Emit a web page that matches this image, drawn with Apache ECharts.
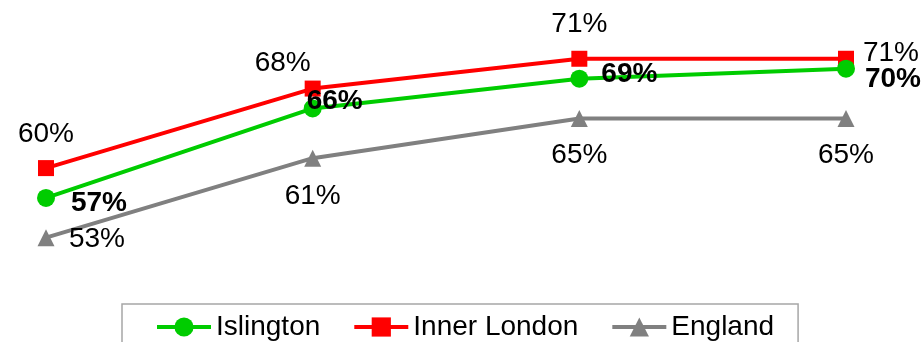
<!DOCTYPE html>
<html>
<head>
<meta charset="utf-8">
<script src="https://cdn.jsdelivr.net/npm/echarts@6/dist/echarts.min.js"></script>
<style>
  html, body { margin: 0; padding: 0; background: #fff; }
  #chart { width: 924px; height: 342px; }
</style>
</head>
<body>
<div id="chart"></div>
<script>
// Four time points, percentages for each area
const categories = ['1', '2', '3', '4'];
const islington = [57, 66, 69, 70];
const innerLondon = [60, 68, 71, 71];
const england = [53, 61, 65, 65];

// Where each value label sits relative to its point [dx, dy]
const islingtonLabelOffsets = [[53, 5], [22, -7], [50, -4], [47, 11]];
const innerLondonLabelOffsets = [[0, -34], [-30, -25], [0, -34], [45, -5]];
const englandLabelOffsets = [[51, 2], [0, 38], [0, 37], [0, 37]];

const FONT = "'Liberation Sans', Arial, Helvetica, sans-serif";

function withLabels(values, offsets, bold) {
  return values.map((v, i) => ({
    value: v,
    label: {
      show: true,
      position: 'inside',
      offset: offsets[i],
      align: 'center',
      verticalAlign: 'middle',
      formatter: '{c}%',
      color: '#000',
      fontSize: 28,
      fontFamily: FONT,
      fontWeight: bold ? 'bold' : 'normal'
    }
  }));
}

const chart = echarts.init(document.getElementById('chart'), null, { renderer: 'canvas' });

chart.setOption({
  animation: false,
  backgroundColor: '#ffffff',
  grid: { left: 46, right: 78, top: 19, bottom: 74.5, containLabel: false },
  xAxis: {
    type: 'category',
    data: categories,
    boundaryGap: false,
    show: false
  },
  yAxis: {
    type: 'value',
    min: 50,
    max: 75,
    show: false,
    splitLine: { show: false }
  },
  legend: {
    left: 122,
    top: 304,
    orient: 'horizontal',
    padding: [9, 24, 30, 33],
    itemGap: 32,
    itemWidth: 54,
    itemHeight: 24,
    borderColor: '#a6a6a6',
    borderWidth: 1.5,
    lineStyle: { width: 4 },
    textStyle: { color: '#000', fontSize: 28, fontFamily: FONT },
    data: ['Islington', 'Inner London', 'England']
  },
  series: [
    {
      name: 'Islington',
      type: 'line',
      data: withLabels(islington, islingtonLabelOffsets, true),
      symbol: 'circle',
      symbolSize: 18,
      color: '#00cc00',
      lineStyle: { width: 4, color: '#00cc00' },
      itemStyle: { color: '#00cc00' },
      z: 3
    },
    {
      name: 'Inner London',
      type: 'line',
      data: withLabels(innerLondon, innerLondonLabelOffsets, false),
      symbol: 'rect',
      symbolSize: 16,
      color: '#ff0000',
      lineStyle: { width: 4, color: '#ff0000' },
      itemStyle: { color: '#ff0000' },
      z: 2
    },
    {
      name: 'England',
      type: 'line',
      data: withLabels(england, englandLabelOffsets, false),
      symbol: 'triangle',
      symbolSize: 17,
      color: '#808080',
      lineStyle: { width: 4, color: '#808080' },
      itemStyle: { color: '#808080' },
      z: 1
    }
  ]
});
</script>
</body>
</html>
